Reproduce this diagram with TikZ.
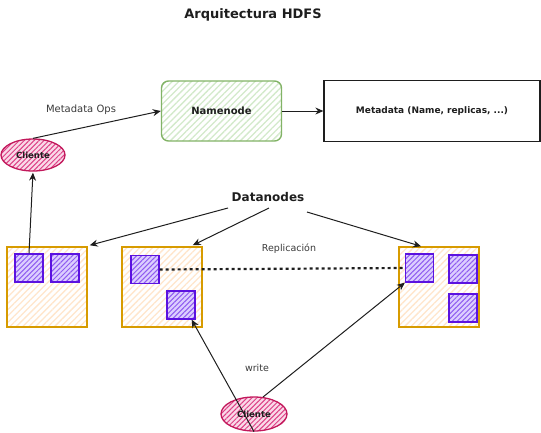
\documentclass[tikz,border=0pt]{standalone}
\usepackage{fontspec}
\setmainfont{DejaVu Sans}
\usetikzlibrary{patterns.meta,arrows.meta,shapes.geometric}
\definecolor{ink}{HTML}{1E1E1E}
\definecolor{labelgray}{HTML}{3A3A3A}
\definecolor{nnstroke}{HTML}{82B366}
\definecolor{nnhatch}{HTML}{D3EACB}
\definecolor{dnstroke}{HTML}{D79B00}
\definecolor{dnhatch}{HTML}{FFE6CC}
\definecolor{blkstroke}{HTML}{5B12E0}
\definecolor{blkfill}{HTML}{DCCEFF}
\definecolor{blkhatch}{HTML}{8F5CF0}
\definecolor{clstroke}{HTML}{C2185B}
\definecolor{clfill}{HTML}{FAD9E8}
\definecolor{clhatch}{HTML}{DD3F85}
\tikzset{
  hatch/.style={preaction={fill=white},preaction={pattern={Lines[angle=45,distance=4.5pt,line width=1.3pt]},pattern color=#1}},
  hatchd/.style 2 args={preaction={fill=#1},preaction={pattern={Lines[angle=45,distance=3.5pt,line width=1pt]},pattern color=#2}},
  mainlabel/.style={text=ink,font=\bfseries},
  softlabel/.style={text=labelgray},
  namebox/.style={hatch=nnhatch,draw=nnstroke,line width=1.4pt,rounded corners=7pt,
    minimum width=120pt,minimum height=60pt,inner sep=0pt,mainlabel,font=\fontsize{10}{12}\bfseries},
  metabox/.style={draw=ink,line width=1.3pt,fill=white,minimum width=216pt,minimum height=61pt,inner sep=0pt,
    mainlabel,font=\fontsize{9}{11}\bfseries},
  dnbox/.style={hatch=dnhatch,draw=dnstroke,line width=1.5pt,minimum size=80pt,inner sep=0pt},
  block/.style={hatchd={blkfill}{blkhatch},draw=blkstroke,line width=1.3pt,minimum size=28pt,inner sep=0pt},
  client/.style={ellipse,hatchd={clfill}{clhatch},draw=clstroke,line width=1.3pt,inner sep=0pt,
    text=ink,font=\fontsize{8.5}{10}\bfseries},
  arr/.style={draw=ink,line width=1pt,-{Stealth[length=8pt,width=7pt]}},
  replline/.style={draw=ink,line width=2.2pt,dash pattern=on 3pt off 3pt},
}
\begin{document}
\begin{tikzpicture}[x=1pt,y=-1pt]
\useasboundingbox (0,0) rectangle (541,432);

\node[mainlabel,font=\fontsize{13}{15}\bfseries] (title) at (253,15) {Arquitectura HDFS};

\node[namebox] (nn) at (221.5,111) {Namenode};
\node[metabox] (meta) at (432,111) {Metadata (Name, replicas, ...)};

\node[client,minimum width=64pt,minimum height=32pt] (clA) at (33,155) {Cliente};
\node[softlabel,font=\fontsize{10}{12}\selectfont] (mops) at (81,110) {Metadata Ops};

\node[mainlabel,font=\fontsize{12}{14}\bfseries] (dn) at (268,197) {Datanodes};

\node[dnbox] (box1) at (47,287) {};
\node[dnbox] (box2) at (162,287) {};
\node[dnbox] (box3) at (439,287) {};

\node[block] (b11) at (29,268) {};
\node[block] (b12) at (65,268) {};
\node[block] (b21) at (145,269.5) {};
\node[block] (b22) at (181,305) {};
\node[block] (b31) at (419.5,268) {};
\node[block] (b32) at (463,269) {};
\node[block] (b33) at (463,308) {};

\node[softlabel,font=\fontsize{9.5}{11}\selectfont] (repl) at (289,249) {Replicación};
\node[softlabel,font=\fontsize{9.5}{11}\selectfont] (wr) at (257,368) {write};

\node[client,minimum width=66pt,minimum height=34pt] (clB) at (254,414) {Cliente};

% connectors
\draw[arr] (clA.north) -- (nn.west);
\draw[arr] (nn.east) -- (meta.west);
\draw[arr,shorten >=1pt] (b11.north) -- (clA.south);

\coordinate (dnA) at (228,208);
\coordinate (dnB) at (269,208);
\coordinate (dnC) at (307,212);
\draw[arr] (dnA) -- ([xshift=2pt,yshift=1pt]box1.north east);
\draw[arr] (dnB) -- ([xshift=-10pt,yshift=1pt]box2.north east);
\draw[arr] (dnC) -- ([xshift=-18pt]box3.north);

\draw[replline] (b21.east) -- (b31.west);

\draw[arr] (clB.south) -- ([xshift=-4pt]b22.south east);
\draw[arr] (clB.62) -- (b31.south west);
\end{tikzpicture}
\end{document}
